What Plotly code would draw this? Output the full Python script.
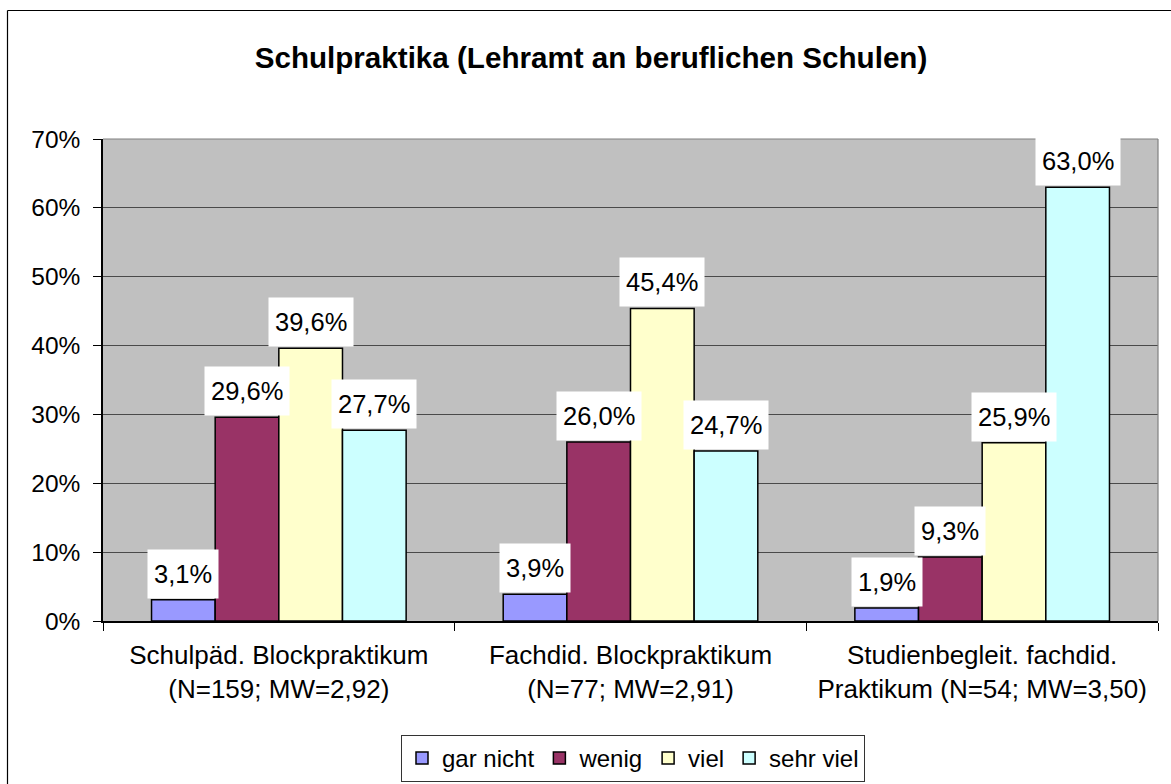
import plotly.graph_objects as go

categories = [
    "Schulpäd. Blockpraktikum<br>(N=159; MW=2,92)",
    "Fachdid. Blockpraktikum<br>(N=77; MW=2,91)",
    "Studienbegleit. fachdid.<br>Praktikum (N=54; MW=3,50)",
]
series_names = ["gar nicht", "wenig", "viel", "sehr viel"]
gar_nicht = [3.1, 3.9, 1.9]
wenig = [29.6, 26.0, 9.3]
viel = [39.6, 45.4, 25.9]
sehr_viel = [27.7, 24.7, 63.0]
colors = ["#9999FF", "#993366", "#FFFFCC", "#CCFFFF"]
y_ticks = [0, 10, 20, 30, 40, 50, 60, 70]

series = [gar_nicht, wenig, viel, sehr_viel]
FONT = "Arial, 'Liberation Sans', sans-serif"

W, H = 1171, 784
ML, MR, MT, MB = 103, 13, 139, 163
PW = W - ML - MR
PH = H - MT - MB


def px_x(px):
    return (px - ML) / PW


def px_y(py):
    return (H - MB - py) / PH


bargap = 0.276
fig = go.Figure()
for name, vals, col in zip(series_names, series, colors):
    fig.add_trace(go.Bar(
        name=name, x=categories, y=[v / 100 for v in vals],
        marker=dict(color=col, line=dict(color="black", width=1.5)),
    ))

# data labels in white boxes
n = len(series)
bw = (1 - bargap) / n
annotations = []
for i, vals in enumerate(series):
    for c, v in enumerate(vals):
        annotations.append(dict(
            x=c + (i - (n - 1) / 2) * bw, y=v / 100, xref="x", yref="y",
            text=f"{v:.1f}".replace(".", ",") + "%",
            showarrow=False, yanchor="bottom", xanchor="center",
            bgcolor="white", borderpad=6, height=36, yshift=1,
            font=dict(family=FONT, size=25.5, color="black"),
        ))

shapes = [
    # outer chart border (left & top visible)
    dict(type="line", xref="paper", yref="paper", x0=px_x(7.5), x1=px_x(7.5),
         y0=px_y(10.5), y1=px_y(800), line=dict(color="black", width=1.2)),
    dict(type="line", xref="paper", yref="paper", x0=px_x(7.5), x1=px_x(1200),
         y0=px_y(10.5), y1=px_y(10.5), line=dict(color="black", width=1.2)),
    # plot area border top & right (gray)
    dict(type="line", xref="paper", yref="paper", x0=0, x1=1, y0=1, y1=1,
         line=dict(color="#808080", width=1.2)),
    dict(type="line", xref="paper", yref="paper", x0=1, x1=1, y0=0, y1=1,
         line=dict(color="#808080", width=1.2)),
]

fig.update_layout(
    width=W, height=H,
    margin=dict(l=ML, r=MR, t=MT, b=MB, autoexpand=False),
    paper_bgcolor="white", plot_bgcolor="#C0C0C0",
    barmode="group", bargap=bargap, bargroupgap=0,
    font=dict(family=FONT, size=25, color="black"),
    title=dict(text="<b>Schulpraktika (Lehramt an beruflichen Schulen)</b>",
               x=px_x(591), xref="paper", xanchor="center",
               y=1 - 58 / H, yref="container", yanchor="middle",
               font=dict(family=FONT, size=29.6, color="black")),
    xaxis=dict(type="category", tickson="boundaries", ticks="outside", ticklen=8,
               tickcolor="black", showline=True, linecolor="black", linewidth=1.5,
               showgrid=False, ticklabelstandoff=10,
               tickfont=dict(family=FONT, size=26, color="black"),
               range=[-0.5, 2.5]),
    yaxis=dict(range=[0, 0.7], tickvals=[t / 100 for t in y_ticks],
               ticktext=[f"{t}%" for t in y_ticks],
               ticks="outside", ticklen=8, tickcolor="black",
               showline=True, linecolor="black", linewidth=1.5,
               showgrid=True, gridcolor="#4a4a4a", gridwidth=1.3,
               zeroline=False, ticklabelstandoff=8,
               tickfont=dict(family=FONT, size=24.5, color="black")),
    legend=dict(orientation="h", x=px_x(633), xanchor="center",
                y=px_y(735), yanchor="top", bgcolor="white",
                bordercolor="#333333", borderwidth=1,
                font=dict(family=FONT, size=24, color="black"),
                itemwidth=30, tracegroupgap=0),
    annotations=annotations,
    shapes=shapes,
    showlegend=True,
)

fig.write_html("out.html", config={"displayModeBar": False},
               post_script="document.body.style.margin='0';document.body.style.overflow='hidden';")
